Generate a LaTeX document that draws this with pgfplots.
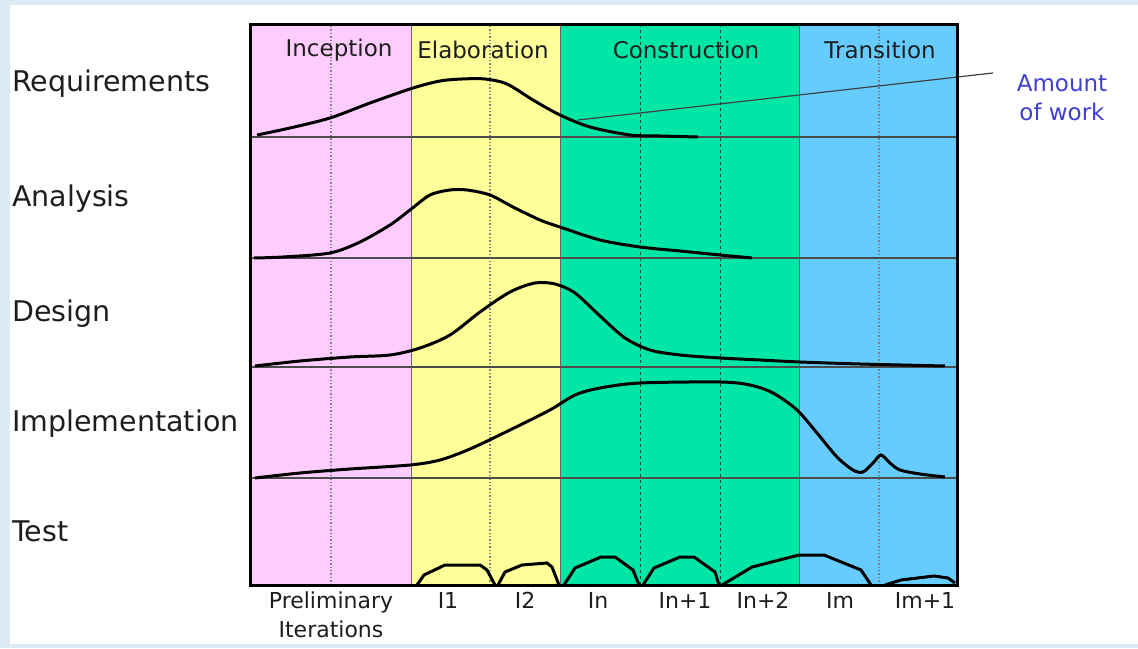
\documentclass[border=0pt]{standalone}
\usepackage{fontspec}
\setmainfont{DejaVu Sans}
\usepackage{pgfplots}
\pgfplotsset{compat=1.18}
\definecolor{cpink}{HTML}{FFCCFF}
\definecolor{cyellow}{HTML}{FFFF99}
\definecolor{cgreen}{HTML}{00E6A6}
\definecolor{cblue}{HTML}{66CCFF}
\definecolor{bgblue}{HTML}{DCEAF6}
\definecolor{workblue}{HTML}{4040D0}
\definecolor{txt}{HTML}{1E1E1E}
\begin{document}
\begin{tikzpicture}[x=1pt,y=1pt]
\useasboundingbox (0,0) rectangle (1138,648);
\fill[white] (0,0) rectangle (1138,648);
\fill[bgblue] (0,0) rectangle (10,648);
\fill[bgblue] (0,643) rectangle (1138,648);
\fill[bgblue] (0,0) rectangle (1138,4);
\begin{axis}[
  at={(250pt,63pt)}, anchor=south west,
  width=707pt, height=560pt, scale only axis,
  xmin=250, xmax=957, ymin=63, ymax=623,
  clip=false, axis on top,
  axis line style={line width=3pt, black},
  ytick=\empty,
  xtick={331,448,525,598,685,763,840,925},
  xticklabels={{Preliminary\\Iterations},I1,I2,In,In+1,In+2,Im,Im+1},
  major tick length=0pt,
  xticklabel style={font=\fontsize{22}{29}\selectfont, align=center, anchor=north, inner sep=0pt, yshift=-7pt, text=txt},
]
% phase bands
\addplot[draw=none, fill=cpink] coordinates {(250,63) (411,63) (411,623) (250,623)} -- cycle;
\addplot[draw=none, fill=cyellow] coordinates {(411,63) (560,63) (560,623) (411,623)} -- cycle;
\addplot[draw=none, fill=cgreen] coordinates {(560,63) (799,63) (799,623) (560,623)} -- cycle;
\addplot[draw=none, fill=cblue] coordinates {(799,63) (957,63) (957,623) (799,623)} -- cycle;
% phase boundaries
\addplot[gray!80!black, line width=0.8pt] coordinates {(411,63) (411,623)};
\addplot[gray!80!black, line width=0.8pt] coordinates {(560,63) (560,623)};
\addplot[gray!80!black, line width=0.8pt] coordinates {(799,63) (799,623)};
% iteration dividers
\addplot[gray, dotted, line width=1.4pt] coordinates {(331,63) (331,623)};
\addplot[gray, dotted, line width=1.4pt] coordinates {(490,63) (490,623)};
\addplot[gray, dotted, line width=1.4pt] coordinates {(879,63) (879,623)};
\addplot[black!70!cgreen, dashed, line width=1pt] coordinates {(640,63) (640,623)};
\addplot[black!70!cgreen, dashed, line width=1pt] coordinates {(720,63) (720,623)};
% baselines
\addplot[black!70, line width=1.2pt] coordinates {(250,511) (957,511)};
\addplot[black!70, line width=1.2pt] coordinates {(250,390) (957,390)};
\addplot[black!70, line width=1.2pt] coordinates {(250,281) (957,281)};
\addplot[black!70, line width=1.2pt] coordinates {(250,170) (957,170)};
% amount of work pointer
\addplot[black!75, line width=1.2pt] coordinates {(578,528) (993,575)};
% Requirements
\addplot[black, line width=3pt, smooth, tension=0.5] coordinates {
(257,513) (290,520) (330,530) (370,545) (413,560) (440,567) (462,569) (485,569)
(507,564) (533,548) (560,533) (590,521) (630,513) (660,512) (698,511)};
% Analysis
\addplot[black, line width=3pt, smooth, tension=0.5] coordinates {
(254,390) (283,391) (330,395) (360,406) (390,423) (410,438) (430,453) (450,458)
(467,458) (490,453) (513,441) (540,428) (560,421) (600,408) (640,401) (680,397)
(720,393) (752,390)};
% Design
\addplot[black, line width=3pt, smooth, tension=0.5] coordinates {
(255,282) (300,287) (350,291) (390,293) (420,300) (450,313) (480,336) (510,356)
(535,365) (555,364) (575,355) (600,332) (625,310) (650,298) (680,293) (720,290)
(760,288) (800,286) (860,284) (945,282)};
% Implementation
\addplot[black, line width=3pt, smooth, tension=0.5] coordinates {
(255,170) (300,175) (350,179) (410,183) (440,188) (470,199) (510,218) (550,238)
(575,253) (600,260) (640,265) (720,266) (750,263) (773,255) (797,238) (817,215)
(837,191) (853,178) (863,176) (873,185) (881,193) (890,185) (900,178) (920,174)
(945,171)};
% Test
\addplot[black, line width=3pt] coordinates {(417,63) (424,73) (445,83) (480,83) (487,78) (495,63)};
\addplot[black, line width=3pt] coordinates {(498,63) (505,76) (522,83) (547,85) (552,81) (559,63)};
\addplot[black, line width=3pt] coordinates {(564,63) (575,80) (601,91) (615,91) (633,78) (639,63)};
\addplot[black, line width=3pt] coordinates {(643,63) (654,80) (680,91) (694,91) (715,76) (719,63)};
\addplot[black, line width=3pt] coordinates {(722,63) (752,81) (799,93) (824,93) (861,78) (871,63)};
\addplot[black, line width=3pt] coordinates {(885,63) (901,68) (934,72) (948,70) (955,65)};
% phase titles
\node[text=txt, font=\fontsize{23}{28}\selectfont] at (axis cs:339,598) {Inception};
\node[text=txt, font=\fontsize{23}{28}\selectfont] at (axis cs:483,598) {Elaboration};
\node[text=txt, font=\fontsize{23}{28}\selectfont] at (axis cs:686,598) {Construction};
\node[text=txt, font=\fontsize{23}{28}\selectfont] at (axis cs:880,598) {Transition};
% workflow labels
\node[text=txt, anchor=base west, inner sep=0pt, font=\fontsize{28.5}{34}\selectfont] at (axis cs:12,556) {Requirements};
\node[text=txt, anchor=base west, inner sep=0pt, font=\fontsize{28.5}{34}\selectfont] at (axis cs:12,441) {Analysis};
\node[text=txt, anchor=base west, inner sep=0pt, font=\fontsize{28.5}{34}\selectfont] at (axis cs:12,326) {Design};
\node[text=txt, anchor=base west, inner sep=0pt, font=\fontsize{28.5}{34}\selectfont] at (axis cs:12,216) {Implementation};
\node[text=txt, anchor=base west, inner sep=0pt, font=\fontsize{28.5}{34}\selectfont] at (axis cs:12,107) {Test};
% amount of work
\node[text=workblue, align=center, font=\fontsize{23}{29}\selectfont] at (axis cs:1062,550) {Amount\\of work};
\end{axis}
\end{tikzpicture}
\end{document}
